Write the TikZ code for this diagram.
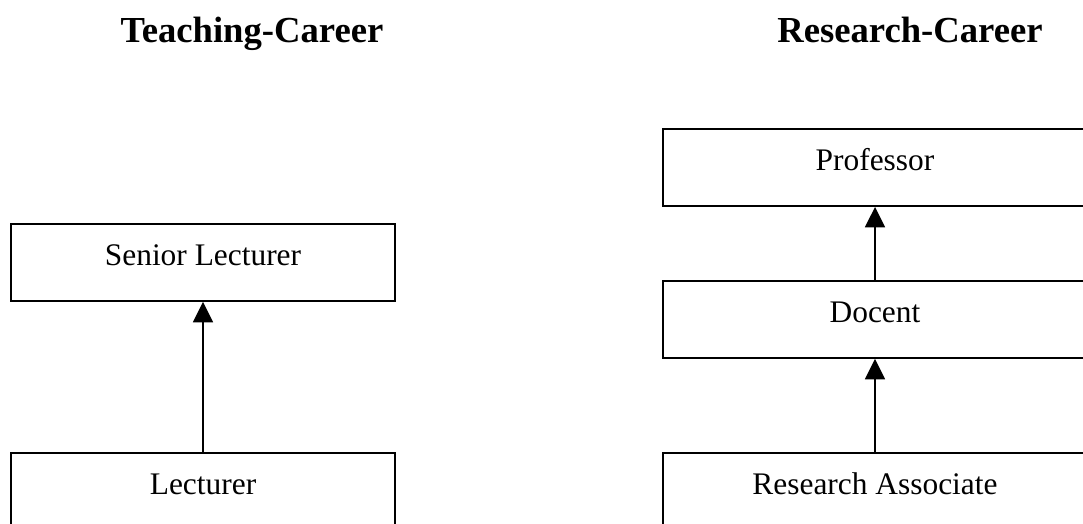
\documentclass[tikz,border=0pt]{standalone}
\usepackage{fontspec}
\setmainfont{Liberation Serif}
\usetikzlibrary{arrows.meta,positioning}

\begin{document}
\begin{tikzpicture}[x=0.382pt, y=-0.382pt, >={Triangle[width=7.6pt,length=7.8pt]}]
        % Style definitions
        \tikzset{
            rank/.style={draw, fill=white, rectangle, minimum height=29.4pt, inner sep=0pt, align=center, line width=0.75pt, font=\fontsize{12}{14}\selectfont, text height=8.5pt, text depth=5.9pt},
            teachbox/.style={rank, minimum width=146.7pt},
            researchbox/.style={rank, minimum width=162pt},
            heading/.style={anchor=base, font=\fontsize{14}{16}\selectfont\bfseries}
        }
        \useasboundingbox (0,0) rectangle (1083,523);
        \clip (0,0) rectangle (1083,523);

        % Headings
        \node [heading] (teach) at (252,43) {Teaching-Career};
        \node [heading] (research) at (910,43) {Research-Career};

        % Nodes
        \node [teachbox, anchor=north] (senior) at (203,223) {Senior Lecturer};
        \node [teachbox, below=57.2pt of senior] (lect) {Lecturer};

        \node [researchbox, anchor=north] (prof) at (875,128) {Professor};
        \node [researchbox, below=27.9pt of prof] (docent) {Docent};
        \node [researchbox, below=35.5pt of docent] (assoc) {Research Associate};

        % Connections
        \draw [->, line width=0.75pt] (lect.north) -- (senior.south);
        \draw [->, line width=0.75pt] (docent.north) -- (prof.south);
        \draw [->, line width=0.75pt] (assoc.north) -- (docent.south);
    \end{tikzpicture}
\end{document}
